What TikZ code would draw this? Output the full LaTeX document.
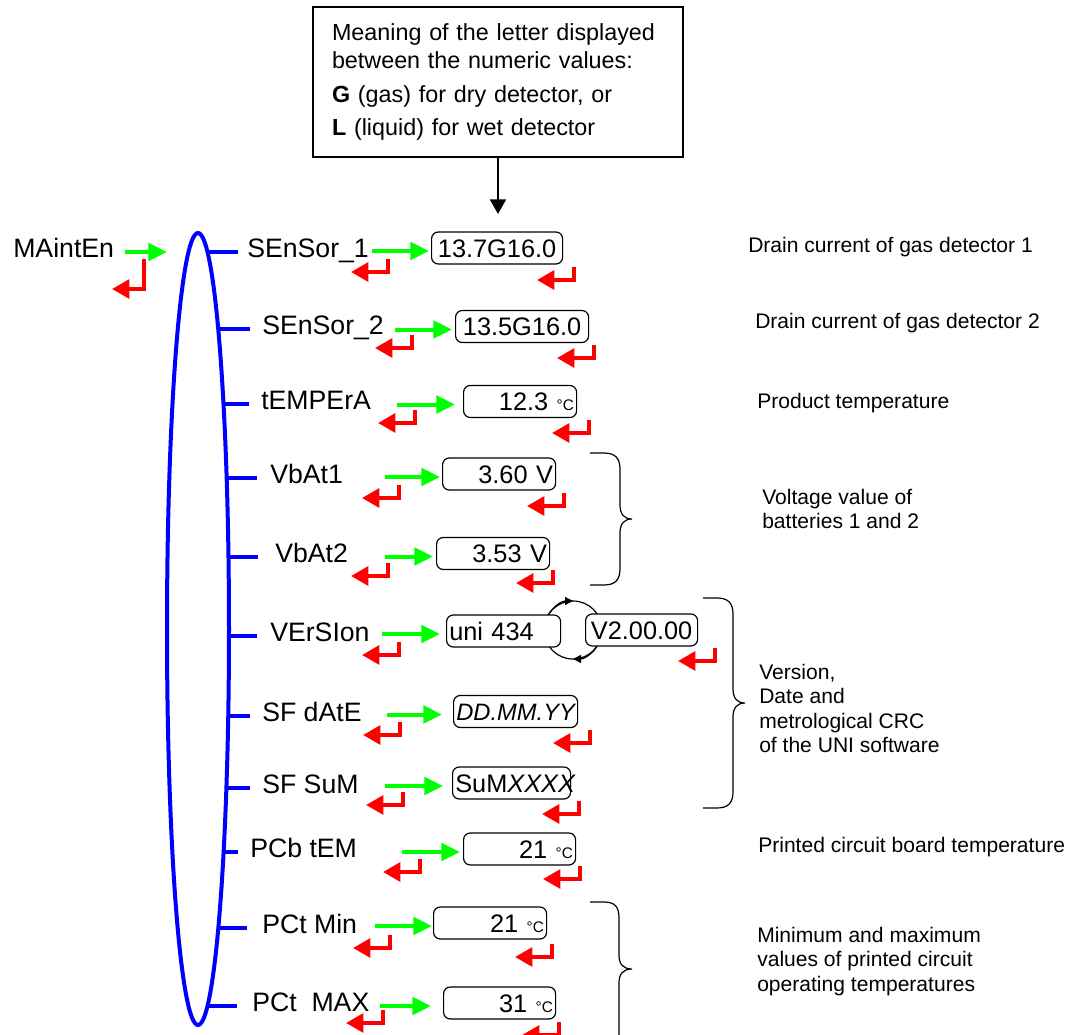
\documentclass[tikz,border=0pt]{standalone}
\usepackage{fontspec}
\setmainfont{Liberation Sans}
\usetikzlibrary{arrows.meta,calc}
\definecolor{fwdgreen}{RGB}{0,255,0}
\definecolor{backred}{RGB}{255,0,0}
\definecolor{menublue}{RGB}{0,0,255}
\newcommand{\labfont}{\fontsize{20}{24}\selectfont}
\newcommand{\valfont}{\fontsize{19}{23}\selectfont}
\newcommand{\descfont}{\fontsize{15.8}{18.2}\selectfont}
\newcommand{\notefont}{\fontsize{17.5}{21}\selectfont}
\newcommand{\degc}{{\fontsize{11.5}{12}\selectfont °C}}

\begin{document}
\begin{tikzpicture}[x=0.75pt,y=0.75pt,yscale=-1,xscale=1,
  lab/.style={font=\labfont, inner sep=0pt, text height=14pt, text depth=6pt, anchor=west},
  val/.style={draw, line width=0.9pt, rounded corners=5pt, fill=white, inner sep=2pt, minimum height=24pt, text height=16pt, text depth=2.5pt, anchor=west, font=\valfont},
  desc/.style={font=\descfont, align=left, inner sep=0pt, anchor=north west},
  note/.style={draw, line width=1.5pt, font=\notefont, align=left, inner xsep=14pt, text width=249pt, minimum width=277.5pt, minimum height=112.5pt},
  branch/.style={draw=menublue, line width=3pt},
  fwd/.style={draw=fwdgreen, line width=3pt, -{Triangle[length=14pt,width=13pt]}},
  retarrow/.style={draw=backred, line width=3pt, -{Triangle[length=13pt,width=14pt]}},
  loopline/.style={line width=0.9pt},
  brace/.style={line width=0.9pt}
]
\useasboundingbox (0,0) rectangle (1076,1035);
%Note box
\node[note] (note) at (498,82) {Meaning of the letter displayed\\between the numeric values:\\[4.5pt]\textbf{G} (gas) for dry detector, or\\[3.7pt]\textbf{L} (liquid) for wet detector};
\draw[line width=1.5pt, -{Triangle[length=11pt,width=12pt]}] (note.south) -- ++(0,56);

% Menu labels
\node[lab] (m) at (13,252) {MAintEn};
\node[lab] (s1) at (247,252) {SEnSor\_1};
\node[lab] (s2) at (262,329) {SEnSor\_2};
\node[lab] (s3) at (261,404) {tEMPErA};
\node[lab] (s4) at (270,478) {VbAt1};
\node[lab] (s5) at (275,557) {VbAt2};
\node[lab] (s6) at (270,636) {VErSIon};
\node[lab] (s7) at (262,716) {SF dAtE};
\node[lab] (s8) at (262,788) {SF SuM};
\node[lab] (s9) at (250,852) {PCb tEM};
\node[lab] (s10) at (262,928) {PCt Min};
\node[lab] (s11) at (252,1006) {PCt\ \ MAX};

% Branches of the menu
\coordinate (mc) at (198,629);
\draw[branch] (mc |- s1.west) -- ([xshift=-7pt]s1.west);
\draw[branch] (mc |- s2.west) -- ([xshift=-9pt]s2.west);
\draw[branch] (mc |- s3.west) -- ([xshift=-9pt]s3.west);
\draw[branch] (mc |- s4.west) -- ([xshift=-10pt]s4.west);
\draw[branch] (mc |- s5.west) -- ([xshift=-13pt]s5.west);
\draw[branch] (mc |- s6.west) -- ([xshift=-10pt]s6.west);
\draw[branch] (mc |- s7.west) -- ([xshift=-9pt]s7.west);
\draw[branch] (mc |- s8.west) -- ([xshift=-9pt]s8.west);
\draw[branch] (mc |- s9.west) -- ([xshift=-9pt]s9.west);
\draw[branch] (mc |- s10.west) -- ([xshift=-11pt]s10.west);
\draw[branch] (mc |- s11.west) -- ([xshift=-11pt]s11.west);
%Ellipse
\draw[branch, fill=white] (mc) ellipse [x radius=31, y radius=396];

%Version loop
\coordinate (cyc) at (573,630);
\draw[loopline] (cyc) circle [radius=29];
\draw[loopline, -{Triangle[length=6pt,width=6pt]}] (cyc) ++(200:29) arc [start angle=200, end angle=270, radius=29];
\draw[loopline, -{Triangle[length=6pt,width=6pt]}] (cyc) ++(20:29) arc [start angle=20, end angle=90, radius=29];

% Value boxes
\node[val, text width=94.25pt, align=center] (b1) at (431,248) {13.7G16.0};
\node[val, text width=95.75pt, align=center] (b2) at (455,326.5) {13.5G16.0};
\node[val, text width=80.75pt, align=right] (b3) at (463,401.5) {12.3 \degc};
\node[val, text width=80.75pt, align=right] (b4) at (442,474) {3.60 V};
\node[val, text width=80.75pt, align=right] (b5) at (436,553.5) {3.53 V};
\node[val, text width=81.5pt, align=left] (b6) at (446,631) {uni 434};
\node[val, text width=80pt, align=center] (b6v) at (585,630) {V2.00.00};
\node[val, text width=89pt, align=center] (b7) at (453,711.5) {\mbox{\fontsize{17.8}{21}\selectfont\textit{DD.MM.YY}}};
\node[val, text width=84.5pt, align=left] (b8) at (452,783) {\mbox{SuM\textit{XXXX}}};
\node[val, text width=80pt, align=right] (b9) at (463,849) {21 \degc};
\node[val, text width=80.75pt, align=right] (b10) at (433,923) {21 \degc};
\node[val, text width=80pt, align=right] (b11) at (443,1003) {31 \degc};

% Forward arrows
\draw[fwd] ([xshift=8pt]m.east) -- ++(42,0);
\draw[fwd] ($(b1.west)+(-59,3)$) -- ($(b1.west)+(-2,3)$);
\draw[fwd] ($(b2.west)+(-60,3)$) -- ($(b2.west)+(-3,3)$);
\draw[fwd] ($(b3.west)+(-66,3)$) -- ($(b3.west)+(-8,3)$);
\draw[fwd] ($(b4.west)+(-57,3)$) -- ($(b4.west)+(-2,3)$);
\draw[fwd] ($(b5.west)+(-51,3)$) -- ($(b5.west)+(-3,3)$);
\draw[fwd] ($(b6.west)+(-64,3)$) -- ($(b6.west)+(-6,3)$);
\draw[fwd] ($(b7.west)+(-66,3)$) -- ($(b7.west)+(-11,3)$);
\draw[fwd] ($(b8.west)+(-67,3)$) -- ($(b8.west)+(-9,3)$);
\draw[fwd] ($(b9.west)+(-61,3)$) -- ($(b9.west)+(-3,3)$);
\draw[fwd] ($(b10.west)+(-58,3)$) -- ($(b10.west)+(-1,3)$);
\draw[fwd] ($(b11.west)+(-63,3)$) -- ($(b11.west)+(-12,3)$);

% Return arrows
\draw[retarrow] (144,259) -- (144,289) -- (112,289);
\draw[retarrow] (388,259) -- ++(0,13) -- ++(-37,0);
\draw[retarrow] (574,267) -- ++(0,13) -- ++(-37,0);
\draw[retarrow] (412,335) -- ++(0,13) -- ++(-37,0);
\draw[retarrow] (594,345) -- ++(0,13) -- ++(-37,0);
\draw[retarrow] (415,410) -- ++(0,13) -- ++(-37,0);
\draw[retarrow] (589,420) -- ++(0,13) -- ++(-37,0);
\draw[retarrow] (399,485) -- ++(0,13) -- ++(-37,0);
\draw[retarrow] (564,493) -- ++(0,13) -- ++(-37,0);
\draw[retarrow] (388,563) -- ++(0,13) -- ++(-37,0);
\draw[retarrow] (553,570) -- ++(0,13) -- ++(-37,0);
\draw[retarrow] (399,642) -- ++(0,13) -- ++(-37,0);
\draw[retarrow] (715,648) -- ++(0,13) -- ++(-37,0);
\draw[retarrow] (400,722) -- ++(0,13) -- ++(-37,0);
\draw[retarrow] (590,730) -- ++(0,13) -- ++(-37,0);
\draw[retarrow] (403,792) -- ++(0,13) -- ++(-37,0);
\draw[retarrow] (579,801) -- ++(0,13) -- ++(-37,0);
\draw[retarrow] (420,859) -- ++(0,13) -- ++(-37,0);
\draw[retarrow] (580,866) -- ++(0,13) -- ++(-37,0);
\draw[retarrow] (390,935) -- ++(0,13) -- ++(-37,0);
\draw[retarrow] (552,944) -- ++(0,13) -- ++(-37,0);
\draw[retarrow] (383,1010) -- ++(0,13) -- ++(-37,0);
\draw[retarrow] (559,1022) -- ++(0,13) -- ++(-37,0);

%Braces
\draw[brace] (590,453) -- (604,453) .. controls (615,453) and (620,458) .. (620,469) -- (620,505) .. controls (620,514) and (624,519) .. (632,519) .. controls (624,519) and (620,524) .. (620,533) -- (620,569) .. controls (620,580) and (615,585) .. (604,585) -- (590,585);
\draw[brace] (703,598) -- (717,598) .. controls (728,598) and (733,603) .. (733,614) -- (733,689) .. controls (733,698) and (737,703) .. (745,703) .. controls (737,703) and (733,708) .. (733,717) -- (733,792) .. controls (733,803) and (728,808) .. (717,808) -- (703,808);
\draw[brace] (590,902) -- (604,902) .. controls (615,902) and (619,907) .. (619,918) -- (619,955) .. controls (619,964) and (623,969) .. (632,969) .. controls (623,969) and (619,974) .. (619,983) -- (619,1040);

% Descriptions
\node[desc] (d1) at (748,237) {Drain current of gas detector 1};
\node[desc] (d2) at (755,313) {Drain current of gas detector 2};
\node[desc] (d3) at (757,393) {Product temperature};
\node[desc] (d4) at (762,489) {Voltage value of\\batteries 1 and 2};
\node[desc] (d5) at (759,664) {Version,\\Date and\\metrological CRC\\of the UNI software};
\node[desc] (d6) at (758,837) {Printed circuit board temperature};
\node[desc] (d7) at (757,927) {Minimum and maximum\\values of printed circuit\\operating temperatures};
\end{tikzpicture}
\end{document}
